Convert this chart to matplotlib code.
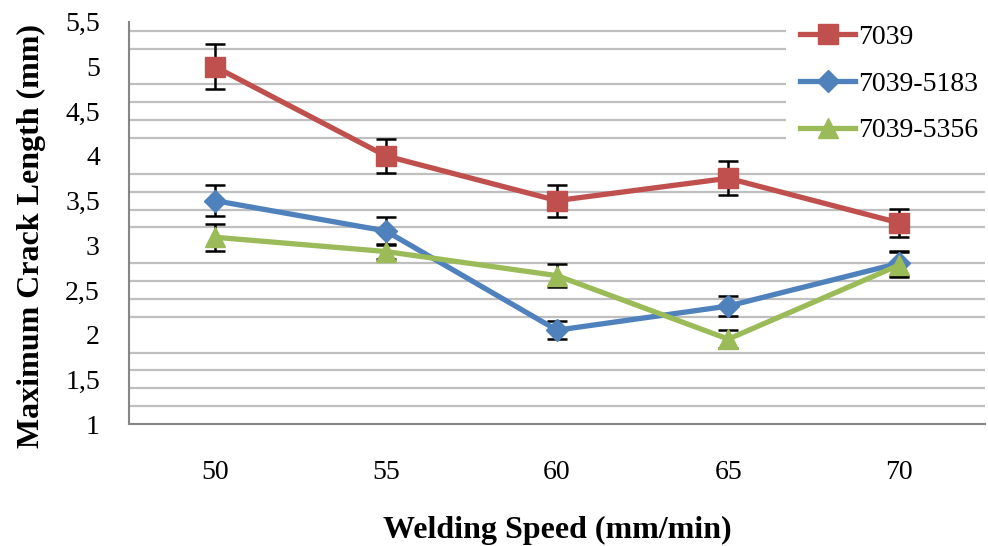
import matplotlib
matplotlib.use("Agg")
import matplotlib.pyplot as plt
from matplotlib.ticker import FixedLocator, FixedFormatter

# data
speeds = ["50", "55", "60", "65", "70"]
y_7039 = [5.0, 4.0, 3.5, 3.75, 3.25]
err_7039 = [0.25, 0.19, 0.18, 0.19, 0.16]
y_5183 = [3.5, 3.16, 2.05, 2.32, 2.8]
err_5183 = [0.17, 0.16, 0.1, 0.11, 0.14]
y_5356 = [3.09, 2.93, 2.66, 1.95, 2.78]
err_5356 = [0.15, 0.08, 0.13, 0.1, 0.14]
ytick_vals = [1, 1.5, 2, 2.5, 3, 3.5, 4, 4.5, 5, 5.5]
ytick_labels = ["1", "1,5", "2", "2,5", "3", "3,5", "4", "4,5", "5", "5,5"]
grid_vals = [1.2, 1.4, 1.6, 1.8, 2.0, 2.2, 2.4, 2.6, 2.8, 3.0, 3.2, 3.4,
             3.6, 3.8, 4.0, 4.2, 4.4, 4.6, 4.8, 5.0, 5.2, 5.4]

plt.rcParams['font.family'] = ['Liberation Serif', 'DejaVu Serif']

fig = plt.figure(figsize=(9.88, 5.46), dpi=100)
ax = fig.add_axes([0.1306, 0.2234, 0.8664, 0.7366])

x = list(range(len(speeds)))
series = [
    ("7039", y_7039, err_7039, "#C0504D", "s", 14.5),
    ("7039-5183", y_5183, err_5183, "#4F81BD", "D", 11.5),
    ("7039-5356", y_5356, err_5356, "#9BBB59", "^", 15),
]

for name, ys, es, col, mk, ms in series:
    ax.errorbar(x, ys, yerr=es, fmt="none", ecolor="black", elinewidth=1.8,
                capsize=7, capthick=1.8, zorder=3)
for name, ys, es, col, mk, ms in series:
    ax.plot(x, ys, color=col, lw=3.8, marker=mk, markersize=ms,
            markeredgecolor=col, label=name, zorder=4)

ax.set_xlim(-0.5, 4.5)
ax.set_ylim(1, 5.5)
ax.set_xticks(x)
ax.set_xticklabels(speeds, fontsize=20)
ax.yaxis.set_major_locator(FixedLocator(ytick_vals))
ax.yaxis.set_major_formatter(FixedFormatter(ytick_labels))
ax.yaxis.set_minor_locator(FixedLocator(grid_vals))
ax.tick_params(axis="y", which="major", length=0, labelsize=20, pad=21)
ax.tick_params(axis="y", which="minor", length=0)
ax.tick_params(axis="x", length=0, pad=26)
ax.grid(False)
ax.yaxis.grid(True, which="minor", color="#BFBFBF", lw=1.6)
ax.set_axisbelow(True)

for s in ["top", "right"]:
    ax.spines[s].set_visible(False)
for s in ["left", "bottom"]:
    ax.spines[s].set_color("#868686")
    ax.spines[s].set_linewidth(1.5)

ax.set_xlabel("Welding Speed (mm/min)", fontsize=23, fontweight="bold", labelpad=22)
ax.set_ylabel("Maximum Crack Length (mm)", fontsize=23, fontweight="bold")
ax.yaxis.set_label_coords(-0.097, 0.468)

leg = ax.legend(loc="upper left", bbox_to_anchor=(0.7955, 0.981), bbox_transform=fig.transFigure,
                fontsize=20, frameon=True, facecolor="white", edgecolor="none",
                framealpha=1, fancybox=False, handlelength=2.0, labelspacing=0.77,
                handletextpad=0.1, borderpad=0.5, borderaxespad=0)
leg.set_zorder(5)

fig.savefig("out.png", dpi=100)
